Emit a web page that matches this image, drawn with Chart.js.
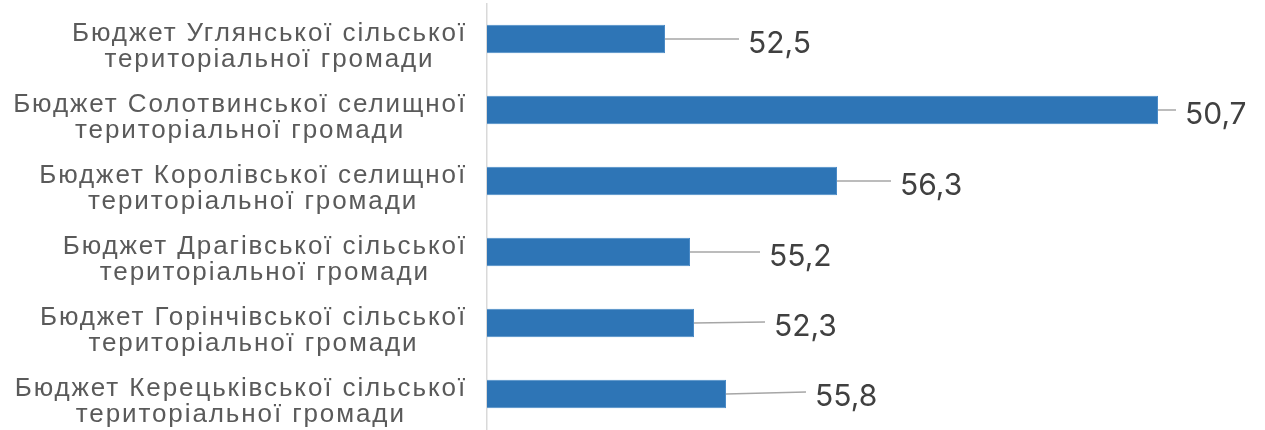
<!DOCTYPE html>
<html lang="uk">
<head>
<meta charset="utf-8">
<title>Бюджети територіальних громад</title>
<script src="https://cdn.jsdelivr.net/npm/chart.js@4/dist/chart.umd.min.js"></script>
<style>
  html, body { margin: 0; padding: 0; background: #fff; }
  #wrap { width: 1265px; height: 430px; }
</style>
</head>
<body>
<div id="wrap"><canvas id="chart-budgets" width="1265" height="430"></canvas></div>
<script>
// Назви громад (кожна — два рядки)
const communities = [
  ['Бюджет Углянської сільської', 'територіальної громади'],
  ['Бюджет Солотвинської селищної', 'територіальної громади'],
  ['Бюджет Королівської селищної', 'територіальної громади'],
  ['Бюджет Драгівської сільської', 'територіальної громади'],
  ['Бюджет Горінчівської сільської', 'територіальної громади'],
  ['Бюджет Керецьківської сільської', 'територіальної громади']
];
// Довжина смуг
const budgetValues = [17.8, 67.1, 35.0, 20.3, 20.7, 23.9];
// Підписи даних
const shareLabels = ['52,5', '50,7', '56,3', '55,2', '52,3', '55,8'];
const axisMax = 70;

// ручне розміщення підписів (зсув від кінця смуги, px)
const labelDx = [83, 27, 63, 79, 80, 89];
const labelDy = [0, 0, 0, 0, -1, -2];

const BudgetsChart = {
  chart: null,

  // підписи категорій: блок вирівняний праворуч, рядки по центру
  categoryLabels: {
    id: 'categoryLabels',
    afterDraw(chart) {
      const ctx = chart.ctx;
      const y = chart.scales.y;
      ctx.save();
      ctx.font = '26px "Liberation Sans", Arial, sans-serif';
      ctx.letterSpacing = '1.9px';
      ctx.fillStyle = '#5a5a5a';
      ctx.textAlign = 'center';
      ctx.textBaseline = 'alphabetic';
      communities.forEach((lines, i) => {
        const cy = y.getPixelForValue(i);
        const w = Math.max(...lines.map(l => ctx.measureText(l).width));
        const cx = 467 - w / 2;
        ctx.fillText(lines[0], cx, cy + 2);
        ctx.fillText(lines[1], cx, cy + 28);
      });
      ctx.restore();
    }
  },

  // виноски з лінією-вказівником
  calloutLabels: {
    id: 'calloutLabels',
    afterDatasetsDraw(chart) {
      const ctx = chart.ctx;
      const meta = chart.getDatasetMeta(0);
      ctx.save();
      ctx.font = '30px Inter, "Open Sans", sans-serif';
      ctx.textAlign = 'left';
      ctx.textBaseline = 'middle';
      meta.data.forEach((bar, i) => {
        const x0 = bar.x, y0 = bar.y;
        const tx = x0 + labelDx[i];
        const ty = y0 + labelDy[i];
        ctx.strokeStyle = '#a6a6a6';
        ctx.lineWidth = 1.5;
        ctx.beginPath();
        ctx.moveTo(x0, y0);
        ctx.lineTo(tx - 9, ty);
        ctx.stroke();
        ctx.fillStyle = '#404040';
        ctx.fillText(shareLabels[i], tx, ty + 5);
      });
      ctx.restore();
    }
  },

  init() {
    const el = document.getElementById('chart-budgets');
    this.chart = new Chart(el, {
      type: 'bar',
      data: {
        labels: communities.map(c => c.join(' ')),
        datasets: [{
          data: budgetValues,
          backgroundColor: '#2e75b6',
          borderColor: '#4a8ac6',
          borderWidth: 1,
          barPercentage: 0.4,
          categoryPercentage: 1
        }]
      },
      options: {
        indexAxis: 'y',
        responsive: false,
        animation: false,
        layout: { padding: { left: 487, right: 78, top: 3.5, bottom: 0.5 } },
        plugins: { legend: { display: false }, tooltip: { enabled: false } },
        scales: {
          x: { min: 0, max: axisMax, display: false },
          y: {
            grid: { display: false, drawTicks: false },
            border: { display: true, color: '#d9d9d9', width: 1.5 },
            ticks: { display: false }
          }
        }
      },
      plugins: [this.categoryLabels, this.calloutLabels]
    });
  }
};

BudgetsChart.init();
</script>
</body>
</html>
